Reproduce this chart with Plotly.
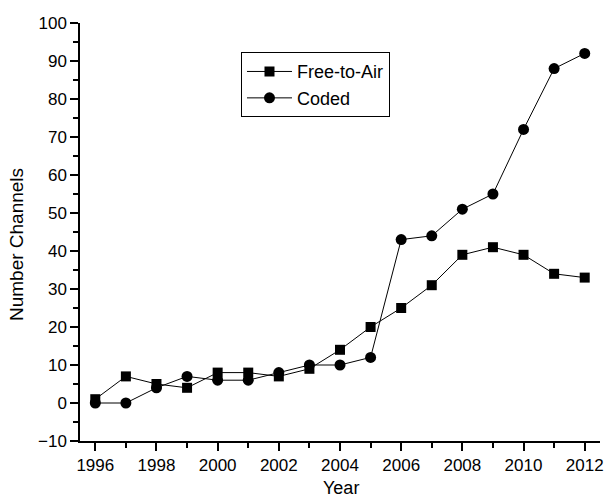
import plotly.graph_objects as go

years = list(range(1996, 2013))
free_to_air = [1, 7, 5, 4, 8, 8, 7, 9, 14, 20, 25, 31, 39, 41, 39, 34, 33]
coded = [0, 0, 4, 7, 6, 6, 8, 10, 10, 12, 43, 44, 51, 55, 72, 88, 92]

FONT = "Liberation Sans, Arial, sans-serif"

fig = go.Figure()
fig.add_trace(go.Scatter(
    x=years, y=free_to_air, name="Free-to-Air", mode="lines+markers",
    line=dict(color="black", width=1),
    marker=dict(symbol="square", size=10, color="black"),
))
fig.add_trace(go.Scatter(
    x=years, y=coded, name="Coded", mode="lines+markers",
    line=dict(color="black", width=1),
    marker=dict(symbol="circle", size=11, color="black"),
))

axis_common = dict(
    showgrid=False, zeroline=False, showline=True, linecolor="black", linewidth=1.5,
    ticks="outside", ticklen=8, tickwidth=1.5, tickcolor="black",
    tickfont=dict(family=FONT, size=17, color="black"),
    automargin=False,
)
fig.update_xaxes(
    range=[1995.5, 2012.5], tick0=1996, dtick=2,
    minor=dict(dtick=1, ticks="outside", ticklen=5, tickwidth=1.5, tickcolor="black"),
    **axis_common,
)
fig.update_yaxes(
    range=[-10, 100], tick0=0, dtick=10,
    minor=dict(dtick=5, ticks="outside", ticklen=5, tickwidth=1.5, tickcolor="black"),
    **axis_common,
)
fig.add_annotation(
    text="Year", xref="paper", yref="paper", x=0.502, y=-0.112,
    xanchor="center", yanchor="middle", showarrow=False,
    font=dict(family=FONT, size=18, color="black"),
)
fig.add_annotation(
    text="Number Channels", xref="paper", yref="paper", x=-0.121, y=0.469,
    xanchor="center", yanchor="middle", textangle=-90, showarrow=False,
    font=dict(family=FONT, size=19, color="black"),
)
fig.update_layout(
    width=604, height=498,
    margin=dict(l=80, r=4, t=23, b=57),
    paper_bgcolor="white", plot_bgcolor="white",
    showlegend=True,
    legend=dict(
        x=0.3096, y=0.93, xanchor="left", yanchor="top",
        bordercolor="black", borderwidth=1, bgcolor="white",
        font=dict(family=FONT, size=18, color="black"),
        tracegroupgap=0, itemwidth=45,
    ),
)
fig.write_html(
    "out.html",
    config={"displayModeBar": False},
    post_script="document.body.style.margin='0';document.body.style.overflow='hidden';",
)
